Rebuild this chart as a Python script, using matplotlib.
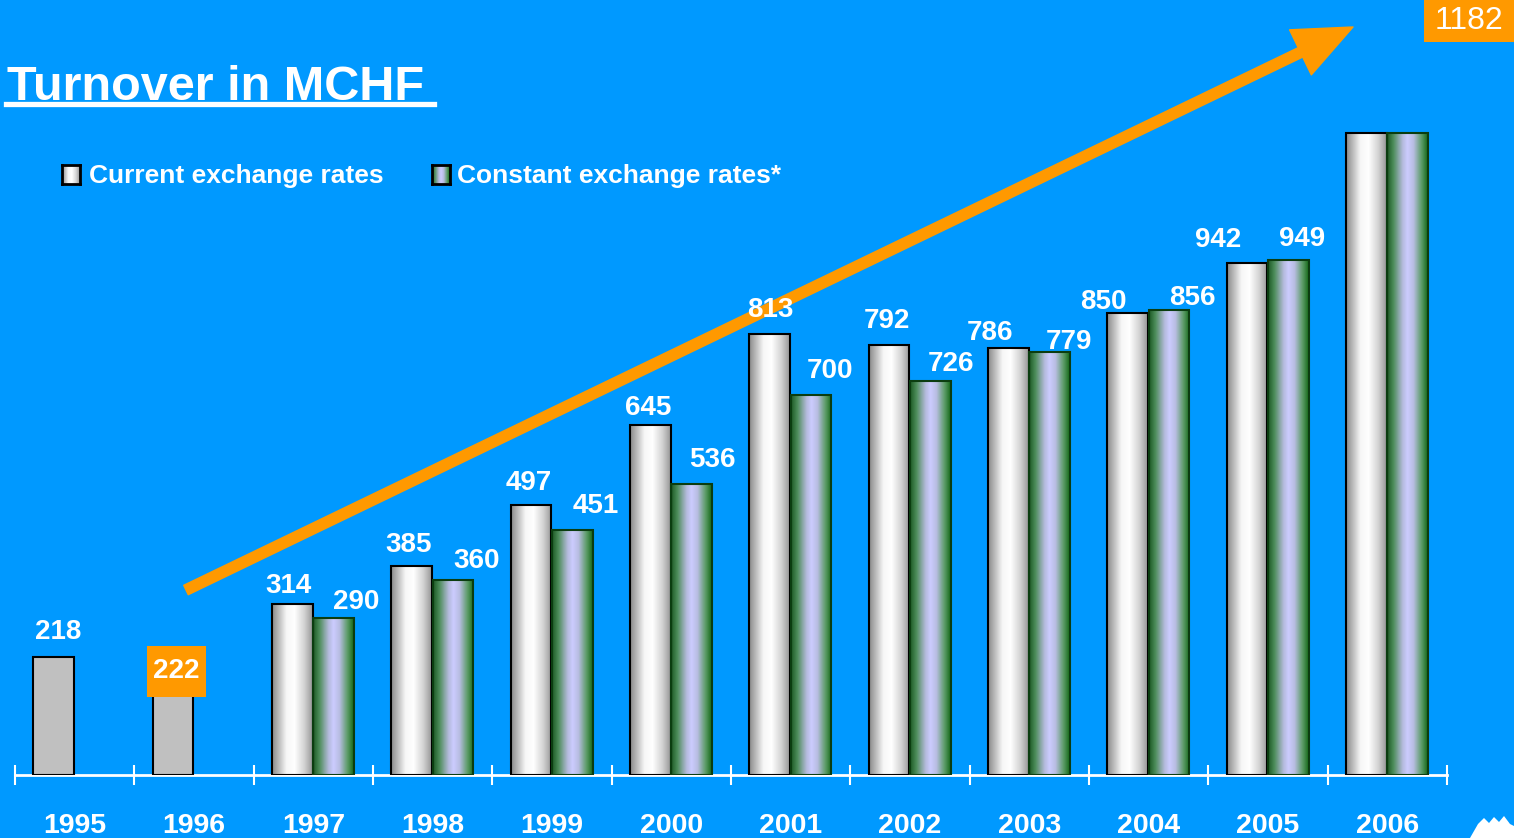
import matplotlib
matplotlib.use("Agg")
import matplotlib.pyplot as plt
import numpy as np
from matplotlib.colors import LinearSegmentedColormap
from matplotlib.patches import Rectangle, Polygon
from matplotlib.path import Path

# Datos
years = ["1995", "1996", "1997", "1998", "1999", "2000",
         "2001", "2002", "2003", "2004", "2005", "2006"]
current_rates = [218, 222, 314, 385, 497, 645, 813, 792, 786, 850, 942, 1182]
constant_rates = [None, None, 290, 360, 451, 536, 700, 726, 779, 856, 949, 1182]

# desplazamiento de las etiquetas (puntos) respecto del centro de la barra
cur_dx = [3, 0, -3, -3, -2, -2, 0, -2, -14, -18, -21, 0]
cur_dy = [18, 0, 13, 15, 16, 12, 17, 17, 11, 8, 17, 0]
con_dx = [0, 0, 16, 17, 17, 15, 14, 15, 14, 17, 10, 0]
con_dy = [0, 0, 11, 13, 17, 17, 17, 12, 7, 9, 15, 0]

BG = "#0099FF"
ORANGE = "#FF9900"
FONT = ["Liberation Sans", "DejaVu Sans"]

cmap_cur = LinearSegmentedColormap.from_list(
    "cur", [(0, "#8a8a8a"), (0.35, "#f6f6f6"), (0.55, "#ffffff"),
            (0.8, "#d2d2d2"), (1, "#979797")])
cmap_con = LinearSegmentedColormap.from_list(
    "con", [(0, "#1d5a26"), (0.15, "#4d8d5a"), (0.38, "#b4badc"),
            (0.5, "#ccccff"), (0.65, "#b8bde2"), (0.85, "#5c9c68"),
            (1, "#176a1a")])
grad = np.linspace(0, 1, 64).reshape(1, -1)


# caja rectangular con margen distinto en x e y
def caja(x0, y0, width, height, mutation_size):
    px, py = 0.22 * mutation_size, 0.45 * mutation_size
    x0, y0 = x0 - px, y0 - py
    x1, y1 = x0 + width + 2 * px, y0 + height + 2 * py
    return Path([(x0, y0), (x1, y0), (x1, y1), (x0, y1), (x0, y0)], closed=True)


fig = plt.figure(figsize=(15.14, 8.38), dpi=100, facecolor=BG)
ax = fig.add_axes([15 / 1514, 63 / 838, 1432 / 1514, 775 / 838])
ax.set_facecolor("none")

x = np.arange(len(years))
w = 0.34

# barras tipo de cambio actual
for i, v in enumerate(current_rates):
    if constant_rates[i] is None:
        ax.bar(x[i] - w - 0.005, v, w, align="edge", color="#c0c0c0",
               edgecolor="black", linewidth=1.5, zorder=3)
    else:
        b = ax.bar(x[i] - w - 0.005, v, w, align="edge", color="none",
                   edgecolor="black", linewidth=1.5, zorder=3)[0]
        ax.imshow(grad, cmap=cmap_cur, aspect="auto", zorder=2,
                  extent=[b.get_x(), b.get_x() + b.get_width(), 0, b.get_height()])

# barras tipo de cambio constante
for i, v in enumerate(constant_rates):
    if v is None:
        continue
    b = ax.bar(x[i], v, w, align="edge", color="none",
               edgecolor="#0b3d10", linewidth=1.5, zorder=3)[0]
    ax.imshow(grad, cmap=cmap_con, aspect="auto", zorder=2,
              extent=[b.get_x(), b.get_x() + b.get_width(), 0, b.get_height()])

# etiquetas de valores
for i, v in enumerate(current_rates):
    if years[i] == "2006":
        continue
    if years[i] == "1996":
        ax.annotate(str(v), (x[i] - w / 2, v), xytext=(2, -12),
                    textcoords="offset points", ha="center", va="center",
                    color="white", fontsize=20, fontweight="bold", family=FONT,
                    zorder=6, bbox=dict(boxstyle=caja, fc=ORANGE, ec="none"))
        continue
    ax.annotate(str(v), (x[i] - w / 2, v), xytext=(cur_dx[i], cur_dy[i]),
                textcoords="offset points", ha="center", va="center",
                color="white", fontsize=20, fontweight="bold", family=FONT, zorder=6)
for i, v in enumerate(constant_rates):
    if v is None or years[i] == "2006":
        continue
    ax.annotate(str(v), (x[i] + w / 2, v), xytext=(con_dx[i], con_dy[i]),
                textcoords="offset points", ha="center", va="center",
                color="white", fontsize=20, fontweight="bold", family=FONT, zorder=6)

ax.set_xlim(-0.5, len(years) - 0.5)
ax.set_ylim(0, 775 / 0.543)

# eje x
for s in ["top", "right", "left"]:
    ax.spines[s].set_visible(False)
ax.spines["bottom"].set_color("white")
ax.spines["bottom"].set_linewidth(2)
ax.set_yticks([])
ax.set_xticks(np.arange(-0.5, len(years)), minor=False)
ax.set_xticklabels([])
ax.tick_params(axis="x", which="major", direction="inout", length=14,
               width=1.5, color="white")
ax.set_xticks(x, minor=True)
ax.set_xticklabels(years, minor=True, color="white", fontsize=20.5,
                   fontweight="bold", family=FONT)
ax.tick_params(axis="x", which="minor", length=0, pad=27)

# titulo subrayado
fig.text(7 / 1514, 1 - 100 / 838, "Turnover in MCHF ", color="white",
         fontsize=35, fontweight="bold", family=FONT, va="baseline")
fig.add_artist(plt.Line2D([6 / 1514, 434 / 1514], [1 - 104.5 / 838] * 2,
                          color="white", linewidth=3.8))


# leyenda
def swatch(px, cmap, edge):
    sax = fig.add_axes([px / 1514, 1 - 184 / 838, 18 / 1514, 19 / 838])
    sax.imshow(grad, cmap=cmap, aspect="auto")
    sax.set_xticks([])
    sax.set_yticks([])
    for sp in sax.spines.values():
        sp.set_color(edge)
        sp.set_linewidth(2)


swatch(62, cmap_cur, "black")
swatch(432, cmap_con, "black")
fig.text(89 / 1514, 1 - 176 / 838, "Current exchange rates", color="white",
         fontsize=19, fontweight="bold", family=FONT, va="center")
fig.text(457 / 1514, 1 - 176 / 838, "Constant exchange rates*", color="white",
         fontsize=19, fontweight="bold", family=FONT, va="center")

# flecha de crecimiento
ax.annotate("", xy=(1353, 838 - 27), xycoords="figure pixels",
            xytext=(186, 838 - 590), textcoords="figure pixels",
            arrowprops=dict(width=7.5, headwidth=36, headlength=42,
                            color=ORANGE, shrink=0), zorder=5)

# caja 1182
fig.add_artist(Rectangle((1424 / 1514, 1 - 42 / 838), 90 / 1514, 42 / 838,
                         transform=fig.transFigure, fc=ORANGE, ec="none"))
fig.text(1469 / 1514, 1 - 21 / 838, str(current_rates[-1]), color="white",
         fontsize=23, family=FONT, ha="center", va="center")

# logo (esquina)
fig.add_artist(Polygon([(1470, 0), (1478, 14), (1484, 20), (1489, 15),
                        (1494, 21), (1499, 16), (1504, 22), (1510, 14),
                        (1514, 12), (1514, 0)],
                       transform=None, fc="white", ec="none"))

fig.savefig("out.png", dpi=100, facecolor=BG)
